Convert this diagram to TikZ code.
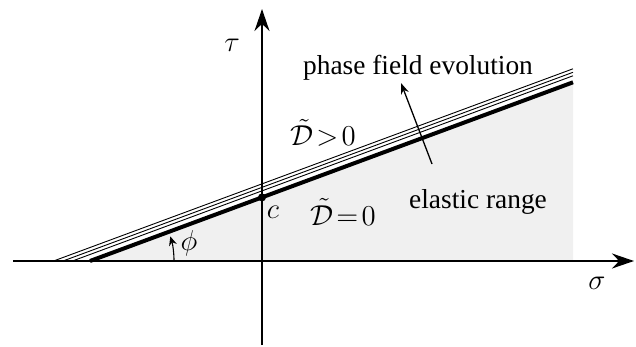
\documentclass[tikz,border=0pt]{standalone}
\usepackage{amsmath,amssymb}
\usepackage{fontspec}
\setmainfont{Liberation Serif}
\usepackage{xcolor}
\usepackage{tikz}
\usetikzlibrary{arrows.meta, positioning, calc}
\definecolor{cAXIS}{HTML}{000000}
\definecolor{cELAS}{HTML}{F0F0F0}
\thickmuskip=2mu plus 1mu

\begin{document}
\begin{tikzpicture}[x=0.5pt, y=-0.5pt,
  lbl/.style={inner sep=0pt, font=\fontsize{13.7}{16}\selectfont},
  axis/.style={line width=1pt, cAXIS, -{Stealth[length=11pt, width=7.5pt]}},
  yieldline/.style={line width=2pt},
  thinline/.style={line width=0.45pt},
  evo/.style={line width=0.65pt, -{Stealth[length=5.5pt, width=4pt]}},
  dot/.style={circle, fill, inner sep=0pt, minimum size=4pt}]
  \useasboundingbox (0,0) rectangle (636,347);

  % Yield line end points
  \coordinate (yA) at (90,261);
  \coordinate (yB) at (573,82.3);
  \coordinate (yR) at (573,261);

  % Elastic range (shaded)
  \fill[cELAS] (yA) -- (yB) -- (yR) -- cycle;

  % Axes
  \coordinate (xL) at (13,261);
  \coordinate (xR) at (634,261);
  \coordinate (vB) at (262,345);
  \coordinate (vT) at (262,9);
  \draw[axis] (xL) -- (xR);
  \draw[axis] (vB) -- (vT);

  % Phase field lines above the yield line
  \foreach \off in {6.5,10,13.5} {
    \draw[thinline] ($(yA)+(-\off/0.37,0)$) -- ($(yB)+(0,-\off)$);
  }

  % Yield line
  \draw[yieldline] (yA) -- (yB);

  % Cohesion point
  \node[dot] (cdot) at (262,197.4) {};
  \node[lbl] (clbl) at (273,212) {$c$};

  % Friction angle
  \draw[line width=0.55pt, -{Stealth[length=4.5pt, width=4pt]}] (174,261) arc[start angle=0, end angle=17, radius=42pt];
  \node[lbl] (phi) at (189,243) {$\phi$};

  % Axis labels
  \node[lbl] (tau) at (232,45) {$\tau$};
  \node[lbl] (sigma) at (597,283) {$\sigma$};

  % Regions
  \node[lbl] (dpos) at (323,133) {$\tilde{\mathcal{D}} > 0$};
  \node[lbl] (dzero) at (343,212) {$\tilde{\mathcal{D}} = 0$};
  \node[lbl] (elastic) at (478,202) {elastic range};
  \node[lbl] (phase) at (418,68) {phase field evolution};

  % Evolution arrow
  \coordinate (evoS) at (432,164);
  \coordinate (evoT) at (401,83);
  \draw[evo] (evoS) -- (evoT);
\end{tikzpicture}
\end{document}
